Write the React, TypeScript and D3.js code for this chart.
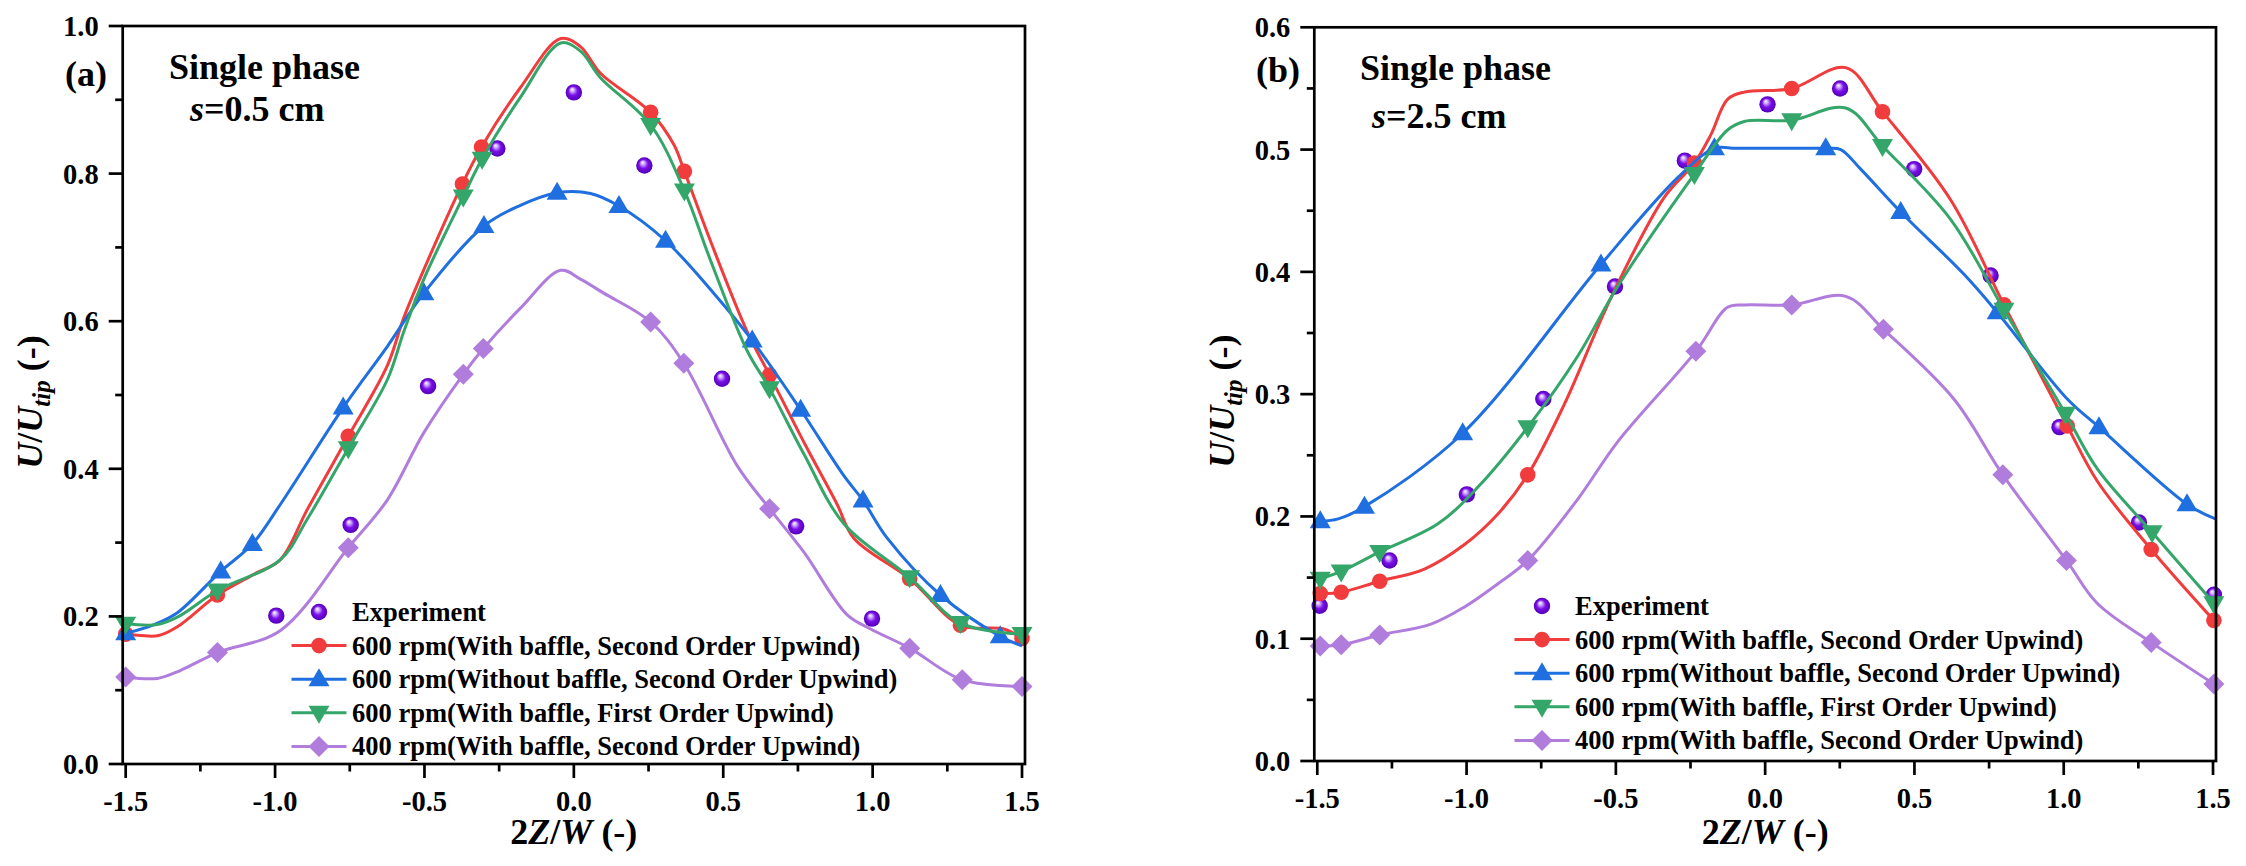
import React from "react";
import * as d3 from "d3";

// ---------- DATA ----------
// each point: [2Z/W, U/Utip, showMarker]
type P = [number, number, number];

// Panel (a): s = 0.5 cm
const aRed: P[] = [
  [-1.5, 0.176, 1], [-1.45, 0.174, 0], [-1.39, 0.174, 0], [-1.327, 0.186, 0], [-1.193, 0.229, 1],
  [-1.071, 0.257, 0], [-0.982, 0.277, 0], [-0.892, 0.345, 0], [-0.755, 0.444, 1], [-0.624, 0.54, 0],
  [-0.569, 0.605, 0], [-0.502, 0.67, 0], [-0.373, 0.786, 1], [-0.309, 0.836, 1], [-0.178, 0.917, 0],
  [-0.044, 0.983, 0], [0.022, 0.972, 0], [0.089, 0.936, 0], [0.257, 0.883, 1], [0.335, 0.839, 0],
  [0.37, 0.803, 1], [0.457, 0.709, 0], [0.58, 0.586, 0], [0.655, 0.527, 1], [0.77, 0.436, 0],
  [0.881, 0.352, 0], [0.937, 0.306, 0], [1.124, 0.251, 1], [1.294, 0.188, 1], [1.439, 0.183, 0],
  [1.5, 0.17, 1],
];
const aBlue: P[] = [
  [-1.5, 0.177, 1], [-1.405, 0.189, 0], [-1.327, 0.205, 0], [-1.182, 0.261, 1], [-1.076, 0.298, 1],
  [-0.982, 0.352, 0], [-0.772, 0.483, 1], [-0.624, 0.566, 0], [-0.502, 0.638, 1], [-0.301, 0.729, 1],
  [-0.19, 0.755, 0], [-0.056, 0.774, 1], [0.056, 0.773, 0], [0.151, 0.756, 1], [0.307, 0.709, 1],
  [0.468, 0.638, 0], [0.597, 0.574, 1], [0.759, 0.48, 1], [0.903, 0.391, 0], [0.968, 0.357, 1],
  [1.049, 0.306, 0], [1.227, 0.229, 1], [1.427, 0.173, 1], [1.5, 0.16, 0],
];
const aGreen: P[] = [
  [-1.5, 0.19, 1], [-1.394, 0.189, 0], [-1.327, 0.199, 0], [-1.193, 0.235, 1], [-0.982, 0.277, 0],
  [-0.892, 0.332, 0], [-0.755, 0.428, 1], [-0.624, 0.521, 0], [-0.569, 0.586, 0], [-0.502, 0.657, 0],
  [-0.37, 0.769, 1], [-0.307, 0.82, 1], [-0.178, 0.904, 0], [-0.044, 0.977, 0], [0.022, 0.966, 0],
  [0.089, 0.93, 0], [0.257, 0.866, 1], [0.37, 0.777, 1], [0.457, 0.683, 0], [0.58, 0.56, 0],
  [0.655, 0.509, 1], [0.77, 0.42, 0], [0.903, 0.326, 0], [1.124, 0.253, 1], [1.294, 0.191, 1],
  [1.5, 0.176, 1],
];
const aPurple: P[] = [
  [-1.5, 0.118, 1], [-1.394, 0.116, 0], [-1.316, 0.127, 0], [-1.193, 0.151, 1], [-0.982, 0.181, 0],
  [-0.755, 0.293, 1], [-0.624, 0.358, 0], [-0.502, 0.449, 0], [-0.37, 0.528, 1], [-0.303, 0.563, 1],
  [-0.178, 0.618, 0], [-0.044, 0.669, 0], [0.022, 0.657, 0], [0.1, 0.638, 0], [0.257, 0.599, 1],
  [0.368, 0.543, 1], [0.547, 0.404, 0], [0.655, 0.346, 1], [0.77, 0.287, 0], [0.915, 0.202, 0],
  [0.993, 0.183, 0], [1.124, 0.157, 1], [1.3, 0.114, 1], [1.5, 0.105, 1],
];
const aExp: [number, number][] = [
  [-0.996, 0.201], [-0.747, 0.324], [-0.488, 0.512], [-0.256, 0.834], [0.0, 0.91],
  [0.236, 0.811], [0.496, 0.522], [0.744, 0.322], [0.998, 0.197],
];

// Panel (b): s = 2.5 cm
const bRed: P[] = [
  [-1.49, 0.137, 1], [-1.42, 0.138, 1], [-1.291, 0.147, 1], [-1.141, 0.157, 0], [-1.007, 0.177, 0],
  [-0.895, 0.202, 0], [-0.795, 0.234, 1], [-0.672, 0.292, 0], [-0.516, 0.379, 0], [-0.338, 0.461, 0],
  [-0.237, 0.489, 1], [-0.182, 0.512, 0], [-0.126, 0.541, 0], [-0.07, 0.547, 0], [0.089, 0.55, 1],
  [0.27, 0.567, 0], [0.393, 0.531, 1], [0.621, 0.459, 0], [0.8, 0.373, 1], [1.012, 0.274, 1],
  [1.112, 0.229, 0], [1.293, 0.173, 1], [1.503, 0.115, 1],
];
const bBlue: P[] = [
  [-1.49, 0.196, 1], [-1.43, 0.198, 0], [-1.342, 0.208, 1], [-1.013, 0.268, 1], [-0.55, 0.406, 1],
  [-0.293, 0.477, 0], [-0.17, 0.501, 1], [-0.1, 0.501, 0], [0.0, 0.501, 0], [0.1, 0.501, 0],
  [0.203, 0.501, 1], [0.253, 0.5, 0], [0.32, 0.484, 0],
  [0.454, 0.449, 1], [0.666, 0.398, 0], [0.777, 0.367, 1], [1.012, 0.296, 0], [1.118, 0.273, 1],
  [1.413, 0.21, 1], [1.508, 0.198, 0],
];
const bGreen: P[] = [
  [-1.49, 0.149, 1], [-1.42, 0.155, 1], [-1.291, 0.171, 1], [-1.096, 0.194, 0], [-0.962, 0.224, 0],
  [-0.795, 0.273, 1], [-0.628, 0.331, 0], [-0.494, 0.388, 0], [-0.237, 0.48, 1], [-0.126, 0.516, 0],
  [-0.07, 0.523, 0], [0.089, 0.524, 1], [0.27, 0.534, 0], [0.393, 0.503, 1], [0.621, 0.443, 0],
  [0.8, 0.369, 1], [1.006, 0.284, 1], [1.112, 0.239, 0], [1.296, 0.187, 1], [1.503, 0.129, 1],
];
const bPurple: P[] = [
  [-1.49, 0.094, 1], [-1.42, 0.095, 1], [-1.291, 0.103, 1], [-1.119, 0.112, 0], [-1.007, 0.126, 0],
  [-0.895, 0.145, 0], [-0.795, 0.164, 1], [-0.628, 0.214, 0], [-0.494, 0.261, 0], [-0.232, 0.335, 1],
  [-0.126, 0.371, 0], [-0.07, 0.373, 0], [0.089, 0.373, 1], [0.27, 0.38, 0], [0.396, 0.353, 1],
  [0.632, 0.296, 0], [0.796, 0.234, 1], [1.009, 0.164, 1], [1.112, 0.129, 0], [1.293, 0.097, 1],
  [1.503, 0.063, 1],
];
const bExp: [number, number][] = [
  [-1.492, 0.127], [-1.258, 0.164], [-0.999, 0.218], [-0.743, 0.296], [-0.503, 0.388],
  [-0.269, 0.491], [0.008, 0.537], [0.251, 0.55], [0.499, 0.484], [0.755, 0.397],
  [0.986, 0.273], [1.252, 0.195], [1.503, 0.136],
];

const xTicks = [-1.5, -1.0, -0.5, 0.0, 0.5, 1.0, 1.5];
const xMinor = [-1.25, -0.75, -0.25, 0.25, 0.75, 1.25];
const aYTicks = [0, 0.2, 0.4, 0.6, 0.8, 1.0];
const aYMinor = [0.1, 0.3, 0.5, 0.7, 0.9];
const bYTicks = [0, 0.1, 0.2, 0.3, 0.4, 0.5, 0.6];
const bYMinor = [0.05, 0.15, 0.25, 0.35, 0.45, 0.55];

const seriesNames = [
  "Experiment",
  "600 rpm(With baffle, Second Order Upwind)",
  "600 rpm(Without baffle, Second Order Upwind)",
  "600 rpm(With baffle, First Order Upwind)",
  "400 rpm(With baffle, Second Order Upwind)",
];

// ---------- STYLE ----------
const FONT = "'Liberation Serif', 'Times New Roman', serif";
const COLORS = ["#6a00d4", "#f03c3c", "#1f6fe0", "#35a66a", "#b07ddc"];
const SHAPES = ["sphere", "circle", "triUp", "triDown", "diamond"];

function Marker({ shape, x, y, color }: { shape: string; x: number; y: number; color: string }) {
  if (shape === "circle") return <circle cx={x} cy={y} r={7.8} fill={color} />;
  if (shape === "sphere") return <circle cx={x} cy={y} r={8.2} fill="url(#sphereGrad)" />;
  let d = "";
  if (shape === "triUp") d = `M${x},${y - 11} L${x + 10.5},${y + 7} L${x - 10.5},${y + 7} Z`;
  if (shape === "triDown") d = `M${x},${y + 11} L${x + 10.5},${y - 7} L${x - 10.5},${y - 7} Z`;
  if (shape === "diamond") d = `M${x},${y - 10.5} L${x + 10.5},${y} L${x},${y + 10.5} L${x - 10.5},${y} Z`;
  return <path d={d} fill={color} />;
}

type PanelCfg = {
  x0: number; x1: number; yTop: number; yBot: number; yMax: number;
  yTicks: number[]; yMinor: number[];
  series: P[][]; exp: [number, number][];
  tag: string; sText: string; tagX: number; tagY: number;
  titleX: number; titleY: number; sX: number; sY: number;
  legX: number; legY0: number; labelX: number;
};

function Panel(c: PanelCfg) {
  const x = d3.scaleLinear().domain([-1.51, 1.51]).range([c.x0, c.x1]);
  const y = d3.scaleLinear().domain([0, c.yMax]).range([c.yBot, c.yTop]);
  const line = d3
    .line<P>()
    .x((d) => x(d[0]))
    .y((d) => y(d[1]))
    .curve(d3.curveCatmullRom.alpha(0.5));
  const axisW = 2.7;
  const midY = (c.yTop + c.yBot) / 2;
  const midX = (c.x0 + c.x1) / 2;
  const legStep = 33.6;
  return (
    <g>
      {/* data */}
      {c.exp.map((d, i) => (
        <Marker key={"e" + i} shape="sphere" x={x(d[0])} y={y(d[1])} color={COLORS[0]} />
      ))}
      {c.series.map((s, si) => (
        <g key={"s" + si}>
          <path d={line(s) || ""} fill="none" stroke={COLORS[si + 1]} strokeWidth={3} strokeLinejoin="round" />
          {s.filter((d) => d[2] === 1).map((d, i) => (
            <Marker key={i} shape={SHAPES[si + 1]} x={x(d[0])} y={y(d[1])} color={COLORS[si + 1]} />
          ))}
        </g>
      ))}
      {/* frame */}
      <rect x={c.x0} y={c.yTop} width={c.x1 - c.x0} height={c.yBot - c.yTop} fill="none" stroke="#000" strokeWidth={axisW} />
      {/* x ticks */}
      {xTicks.map((t) => (
        <g key={"xt" + t}>
          <line x1={x(t)} x2={x(t)} y1={c.yBot} y2={c.yBot + 14} stroke="#000" strokeWidth={axisW} />
          <text x={x(t)} y={c.yBot + 47} textAnchor="middle" fontFamily={FONT} fontWeight="bold" fontSize={28.5}>
            {t.toFixed(1)}
          </text>
        </g>
      ))}
      {xMinor.map((t) => (
        <line key={"xm" + t} x1={x(t)} x2={x(t)} y1={c.yBot} y2={c.yBot + 7.5} stroke="#000" strokeWidth={axisW} />
      ))}
      {/* y ticks */}
      {c.yTicks.map((t) => (
        <g key={"yt" + t}>
          <line x1={c.x0 - 14} x2={c.x0} y1={y(t)} y2={y(t)} stroke="#000" strokeWidth={axisW} />
          <text x={c.x0 - 24} y={y(t) + 10} textAnchor="end" fontFamily={FONT} fontWeight="bold" fontSize={28.5}>
            {t.toFixed(1)}
          </text>
        </g>
      ))}
      {c.yMinor.map((t) => (
        <line key={"ym" + t} x1={c.x0 - 7.5} x2={c.x0} y1={y(t)} y2={y(t)} stroke="#000" strokeWidth={axisW} />
      ))}
      {/* axis titles */}
      <text x={midX} y={844} textAnchor="middle" fontFamily={FONT} fontWeight="bold" fontSize={36}>
        2<tspan fontStyle="italic">Z</tspan>/<tspan fontStyle="italic">W</tspan> (-)
      </text>
      <text
        transform={`translate(${c.labelX},${midY + 7}) rotate(-90)`}
        textAnchor="middle"
        fontFamily={FONT}
        fontWeight="bold"
        fontSize={36}
      >
        <tspan fontStyle="italic">U</tspan>/<tspan fontStyle="italic">U</tspan>
        <tspan fontStyle="italic" fontSize={25} dy={8}>tip</tspan>
        <tspan dy={-8}> (-)</tspan>
      </text>
      {/* annotations */}
      <text x={c.tagX} y={c.tagY} fontFamily={FONT} fontWeight="bold" fontSize={36}>{c.tag}</text>
      <text x={c.titleX} y={c.titleY} fontFamily={FONT} fontWeight="bold" fontSize={36}>Single phase</text>
      <text x={c.sX} y={c.sY} fontFamily={FONT} fontWeight="bold" fontSize={36}>
        <tspan fontStyle="italic">s</tspan>={c.sText}
      </text>
      {/* legend */}
      {seriesNames.map((n, i) => {
        const cy = c.legY0 + i * legStep;
        return (
          <g key={"l" + i}>
            {i > 0 && (
              <line x1={c.legX - 27.5} x2={c.legX + 27.5} y1={cy} y2={cy} stroke={COLORS[i]} strokeWidth={3} />
            )}
            <Marker shape={SHAPES[i]} x={c.legX} y={cy} color={COLORS[i]} />
            <text x={c.legX + 33} y={cy + 9} fontFamily={FONT} fontWeight="bold" fontSize={26.5}>{n}</text>
          </g>
        );
      })}
    </g>
  );
}

export default function App() {
  return (
    <div style={{ position: "absolute", left: 0, top: 0, width: 2246, height: 866, background: "#fff" }}>
      <svg width={2246} height={866} viewBox="0 0 2246 866" style={{ display: "block" }}>
        <defs>
          <radialGradient id="sphereGrad" cx="0.5" cy="0.5" r="0.5" fx="0.38" fy="0.3">
            <stop offset="0" stopColor="#ffffff" />
            <stop offset="0.25" stopColor="#c9a0ff" />
            <stop offset="0.55" stopColor="#7a10e6" />
            <stop offset="1" stopColor="#5200b8" />
          </radialGradient>
        </defs>
        <rect width={2246} height={866} fill="#fff" />
        <Panel
          x0={122.7} x1={1025} yTop={26} yBot={764} yMax={1.0}
          yTicks={aYTicks} yMinor={aYMinor}
          series={[aRed, aBlue, aGreen, aPurple]} exp={aExp}
          tag="(a)" sText="0.5 cm" tagX={65} tagY={86}
          titleX={169} titleY={79} sX={190} sY={121}
          legX={319} legY0={612} labelX={42}
        />
        <Panel
          x0={1314.3} x1={2216} yTop={27.3} yBot={761} yMax={0.6}
          yTicks={bYTicks} yMinor={bYMinor}
          series={[bRed, bBlue, bGreen, bPurple]} exp={bExp}
          tag="(b)" sText="2.5 cm" tagX={1256} tagY={82}
          titleX={1360} titleY={80} sX={1372} sY={128}
          legX={1542} legY0={606} labelX={1234}
        />
      </svg>
    </div>
  );
}
